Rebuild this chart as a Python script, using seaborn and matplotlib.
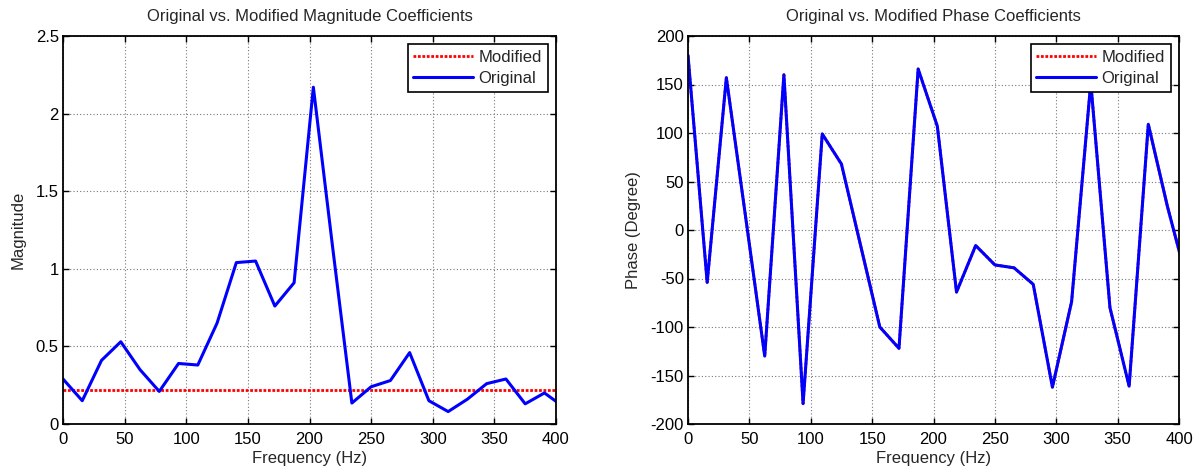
import numpy as np
import pandas as pd
import matplotlib
matplotlib.use("Agg")
import matplotlib.pyplot as plt
import seaborn as sb
from matplotlib.ticker import FuncFormatter, MultipleLocator

# DATA
freq = [0, 15.625, 31.25, 46.875, 62.5, 78.125, 93.75, 109.375, 125, 140.625,
        156.25, 171.875, 187.5, 203.125, 218.75, 234.375, 250, 265.625, 281.25,
        296.875, 312.5, 328.125, 343.75, 359.375, 375, 390.625, 406.25]
mag_original = [0.29, 0.15, 0.41, 0.53, 0.35, 0.21, 0.39, 0.38, 0.65, 1.04,
                1.05, 0.76, 0.91, 2.17, 1.14, 0.135, 0.24, 0.28, 0.46,
                0.15, 0.08, 0.16, 0.26, 0.29, 0.13, 0.20, 0.11]
mag_modified = [0.22] * len(freq)
phase_original = [180, -54, 157, 14, -130, 160, -179, 99, 68, -16,
                  -100, -122, 166, 107, -64, -16, -36, -39, -56,
                  -162, -74, 152, -80, -161, 109, 24, -51]
phase_modified = list(phase_original)

sb.set_style("ticks")
plt.rcParams['font.family'] = ['Liberation Sans', 'DejaVu Sans']

fig = plt.figure(figsize=(12, 4.72), dpi=100)
ax1 = fig.add_axes([63 / 1200, 1 - 424 / 472, 493 / 1200, 388 / 472])
ax2 = fig.add_axes([688 / 1200, 1 - 424 / 472, 491 / 1200, 388 / 472])


def style_axis(ax, ylim, ystep, title, ylabel):
    ax.set_xlim(0, 400)
    ax.set_ylim(*ylim)
    ax.xaxis.set_major_locator(MultipleLocator(50))
    ax.yaxis.set_major_locator(MultipleLocator(ystep))
    fmt = FuncFormatter(lambda v, p: "%g" % v)
    ax.xaxis.set_major_formatter(fmt)
    ax.yaxis.set_major_formatter(fmt)
    ax.grid(True, color="#777777", linestyle=(0, (1, 2)), linewidth=0.8)
    ax.tick_params(direction="in", top=True, right=True, labelsize=12,
                   length=4, width=1, colors="black", pad=3)
    ax.tick_params(axis="x", pad=6)
    for s in ax.spines.values():
        s.set_linewidth(1.3)
        s.set_color("black")
    ax.set_title(title, fontsize=12, pad=11)
    ax.set_xlabel("Frequency (Hz)", fontsize=12, labelpad=3)
    ax.set_ylabel(ylabel, fontsize=12, labelpad=7)
    leg = ax.legend(loc="upper right", fontsize=12, fancybox=False,
                    framealpha=1, edgecolor="black", borderaxespad=0.5,
                    handlelength=3.6, handletextpad=0.3, borderpad=0.35,
                    labelspacing=0.35)
    leg.get_frame().set_linewidth(1.2)


sb.lineplot(x=freq, y=mag_modified, ax=ax1, color="red", linewidth=2,
            linestyle=(0, (1, 0.6)), label="Modified")
sb.lineplot(x=freq, y=mag_original, ax=ax1, color="blue", linewidth=2.2,
            label="Original")
style_axis(ax1, (0, 2.5), 0.5, "Original vs. Modified Magnitude Coefficients",
           "Magnitude")

sb.lineplot(x=freq, y=phase_modified, ax=ax2, color="red", linewidth=2,
            linestyle=(0, (1, 0.6)), label="Modified")
sb.lineplot(x=freq, y=phase_original, ax=ax2, color="blue", linewidth=2.2,
            label="Original")
style_axis(ax2, (-200, 200), 50, "Original vs. Modified Phase Coefficients",
           "Phase (Degree)")

fig.savefig("out.png", dpi=100)
